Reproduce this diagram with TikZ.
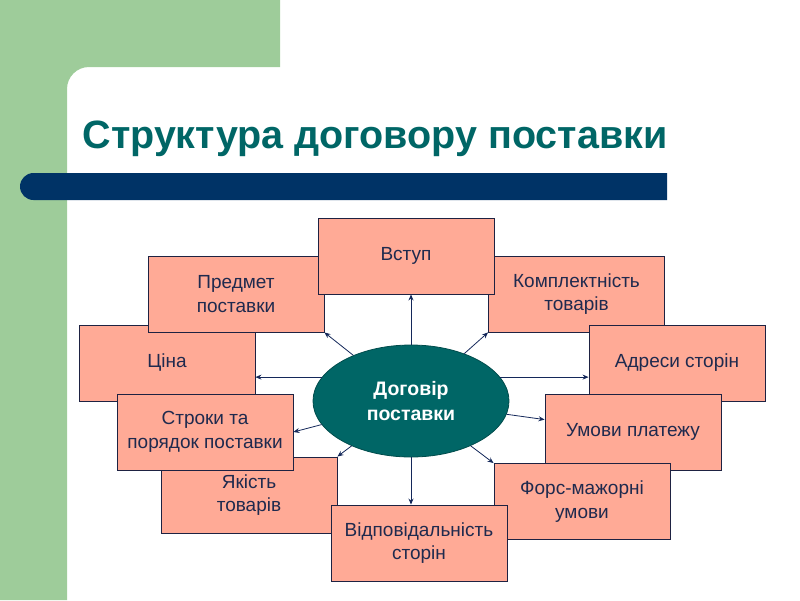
\documentclass[tikz,border=0pt]{standalone}
\usepackage{fontspec}
\setmainfont{Liberation Sans}
\usetikzlibrary{shapes.geometric,arrows.meta}

\definecolor{slidegreen}{RGB}{158,204,154}
\definecolor{barblue}{RGB}{0,51,102}
\definecolor{titleteal}{RGB}{0,102,102}
\definecolor{boxfill}{RGB}{255,170,150}
\definecolor{boxline}{RGB}{30,34,66}
\definecolor{boxtext}{RGB}{31,42,78}
\definecolor{linkblue}{RGB}{20,40,90}

\begin{document}
\begin{tikzpicture}[x=1pt, y=-1pt,
  termbox/.style={draw=boxline, fill=boxfill, line width=0.9pt,
                  minimum width=176pt, minimum height=76pt, inner sep=2pt,
                  align=center, text=boxtext, font=\fontsize{19}{23.5}\selectfont},
  hub/.style={ellipse, draw=titleteal!75!black, fill=titleteal, line width=0.8pt,
              minimum width=196pt, minimum height=112pt, align=center,
              text=white, font=\bfseries\fontsize{19.5}{25}\selectfont},
  link/.style={draw=linkblue, line width=0.8pt, -{Stealth[length=6pt,width=5pt]}}]

\useasboundingbox (0,0) rectangle (800,600);

% Slide background
\fill[slidegreen] (0,0) -- (280,0) -- (280,67) [rounded corners=22pt] -- (67,67)
  [sharp corners] -- (67,600) -- (0,600) -- cycle;
\fill[barblue] (667,173) [rounded corners=13.5pt] -- (20,173) -- (20,200)
  [sharp corners] -- (667,200) -- cycle;
\node[anchor=base west, text=titleteal, font=\bfseries\fontsize{39.5}{47}\selectfont]
  (title) at (79,148) {Структура договору поставки};

% Boxes round the centre (drawing order gives the overlaps)
\node[termbox] (cina)     at (167,363)   {Ціна};
\node[termbox] (predmet)  at (236,294)   {Предмет\\поставки};
\node[termbox] (kompl)    at (576.5,294) {Комплектність\\товарів};
\node[termbox] (vstup)    at (406,256)   {Вступ};
\node[termbox] (adresy)   at (677,363)   {Адреси сторін};
\node[termbox] (yakist)   at (249,495)   {Якість\\товарів};
\node[termbox] (stroky)   at (205,432)   {Строки та\\порядок поставки};
\node[termbox] (umovy)    at (633,432)   {Умови платежу};
\node[termbox] (forsmazh) at (582,501.5) {Форс-мажорні\\умови};
\node[termbox] (vidpov)   at (419,543)   {Відповідальність\\сторін};

% Centre
\node[hub] (dogovir) at (411,401) {Договір\\поставки};

% Arrows out of the centre
\draw[link] (dogovir.north) -- (dogovir.north |- vstup.south);
\draw[link] (dogovir) -- (predmet.south east);
\draw[link] (dogovir) -- (kompl.south west);
\draw[link] (dogovir.165) -- (dogovir.165 -| cina.east);
\draw[link] (dogovir.15) -- (dogovir.15 -| adresy.west);
\draw[link] (dogovir) -- (stroky.east);
\draw[link] (dogovir) -- (umovy.172);
\draw[link] (dogovir) -- (yakist.north east);
\draw[link] (dogovir) -- (forsmazh.north west);
\draw[link] (dogovir.south) -- (dogovir.south |- vidpov.north);

\end{tikzpicture}
\end{document}
